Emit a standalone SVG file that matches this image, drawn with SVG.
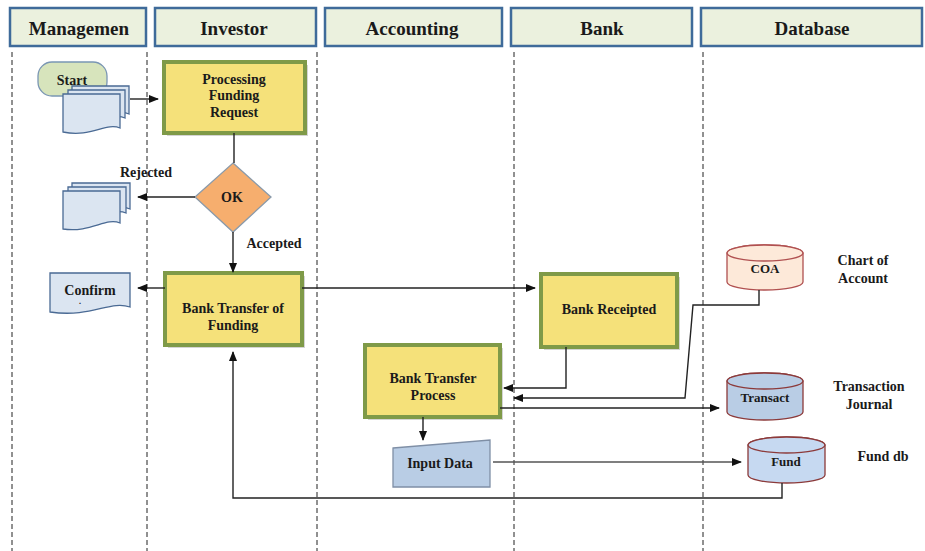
<svg xmlns="http://www.w3.org/2000/svg" width="925" height="551" viewBox="0 0 925 551">
<style>
text{font-family:"Liberation Serif","Times New Roman",serif;font-weight:bold;fill:#1a1a1a;text-anchor:middle;dominant-baseline:central}
.hdr rect{fill:#ebf1de;stroke:#3f6b9a;stroke-width:2.5}
.hdr text{font-size:19px}
.lane{stroke:#222;stroke-width:1;stroke-dasharray:5,3;fill:none}
.proc{fill:#f5e17a;stroke:#7f9a48;stroke-width:4}
.shadow{fill:#b8b8b8;opacity:.6}
.t{font-size:14px}
.doc{fill:#dbe5f1;stroke:#4a6a94;stroke-width:1.3}
.cyl1{fill:#fde9d9;stroke:#b05050;stroke-width:1.3}
.cyl2{fill:#b9cde5;stroke:#8c3a3a;stroke-width:1.3}
.cyl3{fill:#c6d9f1;stroke:#8c3a3a;stroke-width:1.3}
.conn path{fill:none;stroke:#222;stroke-width:1.4}
.gray{stroke:#555 !important}
</style>
<defs>
<marker id="ah" markerWidth="10" markerHeight="8" refX="9" refY="4" orient="auto" markerUnits="userSpaceOnUse">
<path d="M0,0 L10,4 L0,8 Z" fill="#111"/>
</marker>
</defs>
<rect width="925" height="551" fill="#fff"/>

<g id="lanes">
<g class="hdr" id="h-man"><rect x="10" y="8" width="136" height="38"/><text x="79" y="28">Managemen</text></g>
<g class="hdr" id="h-inv"><rect x="155" y="8" width="161" height="38"/><text x="234" y="28">Investor</text></g>
<g class="hdr" id="h-acc"><rect x="325" y="8" width="177" height="38"/><text x="412" y="28">Accounting</text></g>
<g class="hdr" id="h-bank"><rect x="511" y="8" width="181" height="38"/><text x="602" y="28">Bank</text></g>
<g class="hdr" id="h-db"><rect x="701" y="8" width="221" height="38"/><text x="812" y="28">Database</text></g>
<path class="lane" d="M12,52V551M147,52V551M317,52V551M514,52V551M703,52V551"/>
</g>

<g id="start">
<rect x="38" y="62" width="69" height="34" rx="14" fill="#d7e4bc" stroke="#7a96b4" stroke-width="1.3"/>
<text class="t" x="72" y="80">Start</text>
<path class="doc" d="M72,86H129V114C115,108 100,124 72,118Z"/>
<path class="doc" d="M68,90H125V118C111,112 96,128 68,122Z"/>
<path class="doc" d="M63,94H120V128C106,122 91,138 63,132Z"/>
</g>

<g id="processing">
<rect class="shadow" x="167" y="65" width="141" height="71"/>
<rect class="proc" x="164" y="62" width="141" height="71"/>
<text class="t" x="234" y="79">Processing</text>
<text class="t" x="234" y="95">Funding</text>
<text class="t" x="234" y="112">Request</text>
</g>

<g id="ok">
<path d="M233,163L271,197L233,232L195,197Z" fill="#f6ae6e" stroke="#8a9aaa" stroke-width="1.3"/>
<text class="t" x="232" y="197">OK</text>
</g>

<g id="rejected-doc">
<path class="doc" d="M72,183H130V209C116,203 100,219 72,213Z"/>
<path class="doc" d="M68,187H126V213C112,207 96,223 68,217Z"/>
<path class="doc" d="M63,191H120V223C106,217 91,233 63,229Z"/>
</g>

<g id="bank-transfer-funding">
<rect class="shadow" x="168" y="276" width="137" height="72"/>
<rect class="proc" x="165" y="273" width="137" height="72"/>
<text class="t" x="233" y="308">Bank Transfer of</text>
<text class="t" x="233" y="325">Funding</text>
</g>

<g id="confirm">
<path class="doc" d="M50,273H130V307C110,300 92,318 50,312Z"/>
<text class="t" x="90" y="290">Confirm</text>
<text x="80" y="301" style="font-size:8px">.</text>
</g>

<g id="bank-receipted">
<rect class="shadow" x="544" y="277" width="136" height="73"/>
<rect class="proc" x="541" y="274" width="136" height="73"/>
<text class="t" x="609" y="309">Bank Receipted</text>
</g>

<g id="bank-transfer-process">
<rect class="shadow" x="368" y="348" width="135" height="72"/>
<rect class="proc" x="365" y="345" width="135" height="72"/>
<text class="t" x="433" y="378">Bank Transfer</text>
<text class="t" x="433" y="395">Process</text>
</g>

<g id="input-data">
<path d="M393,448L490,440V487H393Z" fill="#b9cde5" stroke="#7f8fa6" stroke-width="1.3"/>
<text class="t" x="440" y="463">Input Data</text>
</g>

<g id="coa">
<path class="cyl1" d="M727,253A38,8 0 0 1 803,253V282A38,8 0 0 1 727,282Z"/>
<ellipse class="cyl1" cx="765" cy="253" rx="38" ry="8"/>
<text class="t" x="765" y="268" style="font-size:13px">COA</text>
<text class="t" x="863" y="260">Chart of</text>
<text class="t" x="863" y="278">Account</text>
</g>

<g id="transact">
<path class="cyl2" d="M727,381A38,8 0 0 1 803,381V412A38,8 0 0 1 727,412Z"/>
<ellipse class="cyl2" cx="765" cy="381" rx="38" ry="8"/>
<text class="t" x="765" y="397" style="font-size:13px">Transact</text>
<text class="t" x="869" y="386">Transaction</text>
<text class="t" x="869" y="404">Journal</text>
</g>

<g id="fund">
<path class="cyl3" d="M748,445A38.5,8 0 0 1 825,445V475A38.5,8 0 0 1 748,475Z"/>
<ellipse class="cyl3" cx="786.5" cy="445" rx="38.5" ry="8"/>
<text class="t" x="786" y="461" style="font-size:13px">Fund</text>
<text class="t" x="883" y="456">Fund db</text>
</g>

<g class="conn" id="connectors">
<path d="M130,99H158" marker-end="url(#ah)"/>
<path d="M234,133V163"/>
<path d="M195,197H138" marker-end="url(#ah)"/>
<text class="t" x="146" y="172">Rejected</text>
<path d="M233,232V272" marker-end="url(#ah)"/>
<text class="t" x="274" y="243">Accepted</text>
<path d="M165,288H138" marker-end="url(#ah)"/>
<path d="M302,288H535" marker-end="url(#ah)"/>
<path d="M566,347V388H504" marker-end="url(#ah)"/>
<path d="M759,290V305H693L685,398H514" marker-end="url(#ah)"/>
<path d="M500,408H719" marker-end="url(#ah)"/>
<path d="M423,417V440" marker-end="url(#ah)"/>
<path class="gray" d="M493,462H741" marker-end="url(#ah)"/>
<path d="M782,483V498H233V352" marker-end="url(#ah)"/>
</g>
</svg>
